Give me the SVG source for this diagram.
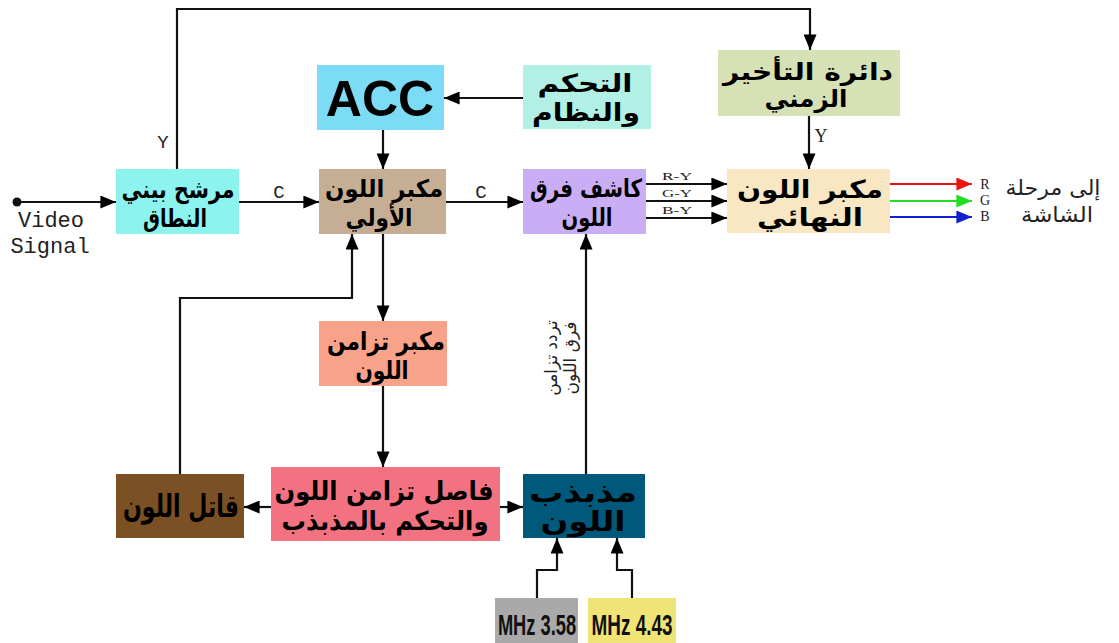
<svg xmlns="http://www.w3.org/2000/svg" width="1119" height="643" viewBox="0 0 1119 643">
  <style>
    .ar { font-family: "DejaVu Sans", "Noto Sans", sans-serif; font-weight: bold; fill: #000; text-anchor: middle; }
    .mono { font-family: "Liberation Mono", "DejaVu Sans Mono", monospace; fill: #222; }
    .serif { font-family: "Liberation Serif", "DejaVu Serif", serif; fill: #222; }
    .line { fill: none; stroke: #111; stroke-width: 2.2; }
    .arrow { marker-end: url(#ah); }
    .mhz { font-family: "Liberation Sans", Arial, sans-serif; font-weight: bold; font-size: 30px; fill: #111; text-anchor: middle; }
  </style>
  <defs>
    <marker id="ah" viewBox="0 0 12 10" refX="12" refY="5" markerWidth="16" markerHeight="13" markerUnits="userSpaceOnUse" orient="auto">
      <path d="M0,0 L12,5 L0,10 z" fill="#000"/>
    </marker>
    <marker id="ahR" viewBox="0 0 12 10" refX="12" refY="5" markerWidth="16" markerHeight="13" markerUnits="userSpaceOnUse" orient="auto">
      <path d="M0,0 L12,5 L0,10 z" fill="#ee1111"/>
    </marker>
    <marker id="ahG" viewBox="0 0 12 10" refX="12" refY="5" markerWidth="16" markerHeight="13" markerUnits="userSpaceOnUse" orient="auto">
      <path d="M0,0 L12,5 L0,10 z" fill="#22dd22"/>
    </marker>
    <marker id="ahB" viewBox="0 0 12 10" refX="12" refY="5" markerWidth="16" markerHeight="13" markerUnits="userSpaceOnUse" orient="auto">
      <path d="M0,0 L12,5 L0,10 z" fill="#1122cc"/>
    </marker>
  </defs>
  <rect width="1119" height="643" fill="#fff"/>

  <!-- connectors -->
  <g id="connectors">
    <circle cx="17" cy="202" r="4.5" fill="#111"/>
    <path class="line arrow" d="M17,202 H116"/>
    <path class="line arrow" d="M177,169 V9 H810 V50"/>
    <path class="line arrow" d="M239,202 H319"/>
    <path class="line arrow" d="M523,98 H444"/>
    <path class="line arrow" d="M383,130 V169"/>
    <path class="line arrow" d="M446,202 H523"/>
    <path class="line arrow" d="M646,184 H727"/>
    <path class="line arrow" d="M646,201 H727"/>
    <path class="line arrow" d="M646,218 H727"/>
    <path class="line arrow" d="M809,116 V169"/>
    <path d="M890,184 H972" fill="none" stroke="#ee1111" stroke-width="2.2" marker-end="url(#ahR)"/>
    <path d="M890,201 H972" fill="none" stroke="#22dd22" stroke-width="2.2" marker-end="url(#ahG)"/>
    <path d="M890,217 H972" fill="none" stroke="#1122cc" stroke-width="2.2" marker-end="url(#ahB)"/>
    <path class="line arrow" d="M383,234 V321"/>
    <path class="line arrow" d="M180,474 V298 H352 V234"/>
    <path class="line arrow" d="M383,386 V467"/>
    <path class="line arrow" d="M271,507 H244"/>
    <path class="line arrow" d="M500,507 H523"/>
    <path class="line arrow" d="M586,474 V234"/>
    <path class="line arrow" d="M537,598 V570 H557 V538"/>
    <path class="line arrow" d="M632,598 V570 H617 V538"/>

    <!-- signal labels -->
    <text class="mono" x="51" y="227" font-size="22" text-anchor="middle">Video</text>
    <text class="mono" x="50" y="253" font-size="22" text-anchor="middle">Signal</text>
    <text class="mono" x="163" y="148" font-size="19" text-anchor="middle">Y</text>
    <text class="mono" x="279" y="198" font-size="19" text-anchor="middle">C</text>
    <text class="mono" x="481" y="198" font-size="19" text-anchor="middle">C</text>
    <text class="serif" x="821" y="142" font-size="18" text-anchor="middle">Y</text>
    <text class="serif" x="677" y="180" font-size="11" text-anchor="middle" textLength="30" lengthAdjust="spacingAndGlyphs">R-Y</text>
    <text class="serif" x="677" y="197" font-size="11" text-anchor="middle" textLength="30" lengthAdjust="spacingAndGlyphs">G-Y</text>
    <text class="serif" x="677" y="214" font-size="11" text-anchor="middle" textLength="30" lengthAdjust="spacingAndGlyphs">B-Y</text>
    <text class="serif" x="985" y="189" font-size="14" text-anchor="middle">R</text>
    <text class="serif" x="985" y="205" font-size="14" text-anchor="middle">G</text>
    <text class="serif" x="985" y="221" font-size="14" text-anchor="middle">B</text>
    <text x="1053" y="195" font-family="DejaVu Sans, sans-serif" font-size="21" fill="#222" text-anchor="middle" textLength="95" lengthAdjust="spacingAndGlyphs">إلى مرحلة</text>
    <text x="1057" y="222" font-family="DejaVu Sans, sans-serif" font-size="21" fill="#222" text-anchor="middle" textLength="72" lengthAdjust="spacingAndGlyphs">الشاشة</text>
    <g transform="translate(560,358) rotate(-90)">
      <text x="0" y="-3" font-family="DejaVu Sans, sans-serif" font-size="17" fill="#222" text-anchor="middle">تردد تزامن</text>
      <text x="0" y="16" font-family="DejaVu Sans, sans-serif" font-size="17" fill="#222" text-anchor="middle">فرق اللون</text>
    </g>
  </g>

  <!-- band-pass filter -->
  <g id="bandpass">
    <rect x="116" y="169" width="123" height="65" fill="#8df3ef"/>
    <text class="ar" x="178" y="198" font-size="25" textLength="113" lengthAdjust="spacingAndGlyphs">مرشح بيني</text>
    <text class="ar" x="175" y="227" font-size="25" textLength="64" lengthAdjust="spacingAndGlyphs">النطاق</text>
  </g>

  <!-- ACC -->
  <g id="acc">
    <rect x="317" y="65" width="127" height="65" fill="#7ddcf5"/>
    <text x="380" y="116" font-family="Liberation Sans, Arial, sans-serif" font-weight="bold" font-size="50" text-anchor="middle" fill="#000">ACC</text>
  </g>

  <!-- control -->
  <g id="control">
    <rect x="523" y="65" width="128" height="64" fill="#b2f0e6"/>
    <text class="ar" x="585" y="92" font-size="25" textLength="95" lengthAdjust="spacingAndGlyphs">التحكم</text>
    <text class="ar" x="586" y="121" font-size="25" textLength="108" lengthAdjust="spacingAndGlyphs">والنظام</text>
  </g>

  <!-- delay line -->
  <g id="delay">
    <rect x="718" y="50" width="182" height="66" fill="#d6e1b6"/>
    <text class="ar" x="808" y="80" font-size="24" textLength="170" lengthAdjust="spacingAndGlyphs">دائرة التأخير</text>
    <text class="ar" x="806" y="107" font-size="24" textLength="83" lengthAdjust="spacingAndGlyphs">الزمني</text>
  </g>

  <!-- first chroma amplifier -->
  <g id="chroma-amp">
    <rect x="319" y="169" width="127" height="65" fill="#c6ae95"/>
    <text class="ar" x="384" y="197" font-size="24" textLength="118" lengthAdjust="spacingAndGlyphs">مكبر اللون</text>
    <text class="ar" x="379" y="226" font-size="24" textLength="67" lengthAdjust="spacingAndGlyphs">الأولي</text>
  </g>

  <!-- colour difference detector -->
  <g id="detector">
    <rect x="523" y="169" width="123" height="65" fill="#c9aef6"/>
    <text class="ar" x="586" y="197" font-size="25" textLength="112" lengthAdjust="spacingAndGlyphs">كاشف فرق</text>
    <text class="ar" x="587" y="226" font-size="25" textLength="51" lengthAdjust="spacingAndGlyphs">اللون</text>
  </g>

  <!-- final colour amplifier -->
  <g id="final-amp">
    <rect x="727" y="169" width="163" height="64" fill="#f9e6c3"/>
    <text class="ar" x="810" y="198" font-size="25" textLength="146" lengthAdjust="spacingAndGlyphs">مكبر اللون</text>
    <text class="ar" x="810" y="226" font-size="25" textLength="106" lengthAdjust="spacingAndGlyphs">النهائي</text>
  </g>

  <!-- burst amplifier -->
  <g id="burst-amp">
    <rect x="319" y="321" width="128" height="65" fill="#f9a28a"/>
    <text class="ar" x="386" y="350" font-size="25" textLength="118" lengthAdjust="spacingAndGlyphs">مكبر تزامن</text>
    <text class="ar" x="382" y="379" font-size="25" textLength="53" lengthAdjust="spacingAndGlyphs">اللون</text>
  </g>

  <!-- burst separator / oscillator control -->
  <g id="separator">
    <rect x="271" y="467" width="229" height="74" fill="#f27282"/>
    <text class="ar" x="384" y="500" font-size="26" textLength="219" lengthAdjust="spacingAndGlyphs">فاصل تزامن اللون</text>
    <text class="ar" x="385" y="530" font-size="26" textLength="207" lengthAdjust="spacingAndGlyphs">والتحكم بالمذبذب</text>
  </g>

  <!-- colour killer -->
  <g id="killer">
    <rect x="116" y="474" width="128" height="64" fill="#7b5024"/>
    <text class="ar" x="181" y="517" font-size="31" textLength="116" lengthAdjust="spacingAndGlyphs">قاتل اللون</text>
  </g>

  <!-- colour oscillator -->
  <g id="oscillator">
    <rect x="523" y="474" width="122" height="64" fill="#00597b"/>
    <text class="ar" x="583" y="502" font-size="27" textLength="108" lengthAdjust="spacingAndGlyphs">مذبذب</text>
    <text class="ar" x="583" y="531" font-size="27" textLength="85" lengthAdjust="spacingAndGlyphs">اللون</text>
  </g>

  <!-- crystals (condensed bold labels) -->
  <g id="xtal-358">
    <rect x="495" y="598" width="83" height="45" fill="#a9a9a9"/>
    <text class="mhz" transform="translate(537,635) scale(0.61,1)">MHz 3.58</text>
  </g>
  <g id="xtal-443">
    <rect x="588" y="598" width="88" height="45" fill="#f1e477"/>
    <text class="mhz" transform="translate(632,635) scale(0.63,1)">MHz 4.43</text>
  </g>
</svg>
